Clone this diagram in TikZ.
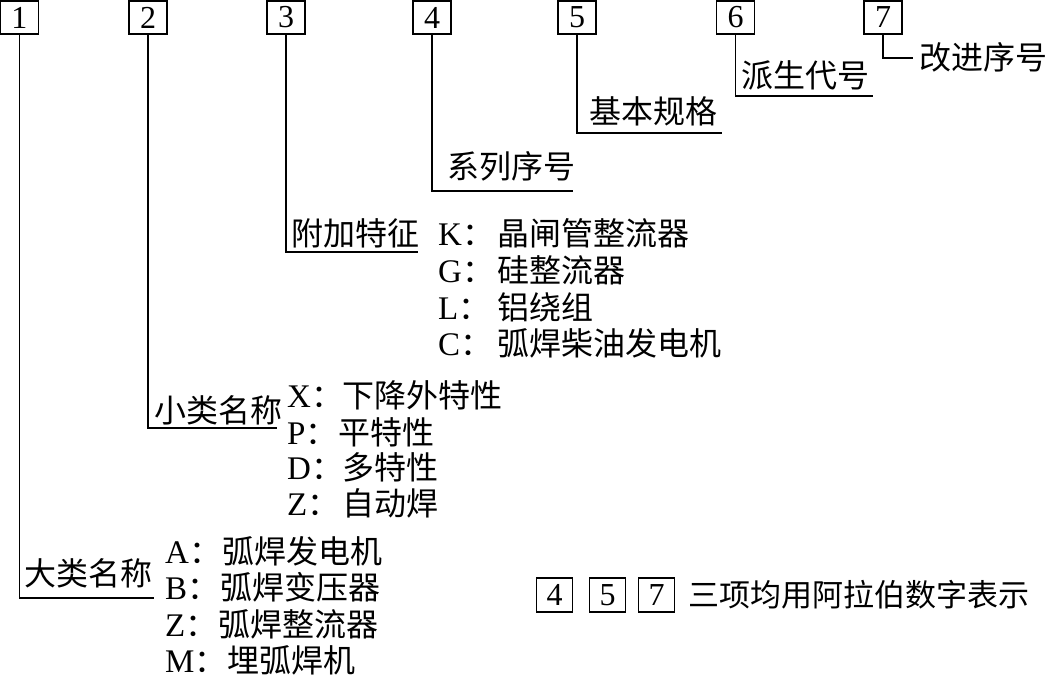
\documentclass[tikz,border=0pt]{standalone}
\usepackage{fontspec}
\setmainfont{Liberation Serif}
\newfontfamily\cjk{Noto Sans CJK SC}
\newcommand{\lt}[1]{{\fontsize{33}{36}\selectfont #1}}
\begin{document}
\begin{tikzpicture}[x=1pt,y=-1pt,
  numbox/.style={draw,line width=1.1pt,minimum width=38pt,minimum height=33pt,inner sep=0pt,font=\fontsize{32}{36}\selectfont},
  smallbox/.style={numbox,minimum width=36pt,minimum height=34pt},
  lbl/.style={anchor=base west,inner sep=0pt,font=\fontsize{32}{36}\selectfont\cjk},
  note/.style={anchor=base west,inner sep=0pt,font=\fontsize{31}{36}\selectfont\cjk},
  item/.style={anchor=base west,inner sep=0pt,font=\fontsize{32}{36}\selectfont},
  conn/.style={line width=1.1pt}]
\useasboundingbox (0,0) rectangle (1053,678);
% top boxes
\node[numbox] (b1) at (19.5,17.5) {1};
\node[numbox] (b2) at (148,17.5) {2};
\node[numbox] (b3) at (286,17.5) {3};
\node[numbox] (b4) at (432,17.5) {4};
\node[numbox] (b5) at (577,17.5) {5};
\node[numbox] (b6) at (735.5,17.5) {6};
\node[numbox] (b7) at (883,17.5) {7};
% line ends
\coordinate (e1) at (154,598);
\coordinate (e2) at (277,428);
\coordinate (e3) at (418,252);
\coordinate (e4) at (573,191);
\coordinate (e5) at (722,133);
\coordinate (e6) at (873,96);
\coordinate (e7) at (913,58);
\draw[conn] (b1.south) |- (e1);
\draw[conn] (b2.south) |- (e2);
\draw[conn] (b3.south) |- (e3);
\draw[conn] (b4.south) |- (e4);
\draw[conn] (b5.south) |- (e5);
\draw[conn] (b6.south) |- (e6);
\draw[conn] (b7.south) |- (e7);
% labels
\node[lbl] (l1) at (24,585) {大类名称};
\node[lbl] (l2) at (154,422) {小类名称};
\node[lbl] (l3) at (291,245) {附加特征};
\node[lbl] (l4) at (447,178) {系列序号};
\node[lbl] (l5) at (589,123) {基本规格};
\node[lbl] (l6) at (741,87) {派生代号};
\node[lbl] (l7) at (919,69) {改进序号};
% group 3
\node[item] (k) at (438,245) {\makebox[59pt][l]{\lt{K}{\cjk ：}}{\cjk 晶闸管整流器}};
\node[item] (g) at (438,282) {\makebox[59pt][l]{\lt{G}{\cjk ：}}{\cjk 硅整流器}};
\node[item] (l) at (438,319) {\makebox[59pt][l]{\lt{L}{\cjk ：}}{\cjk 铝绕组}};
\node[item] (c) at (438,355) {\makebox[59pt][l]{\lt{C}{\cjk ：}}{\cjk 弧焊柴油发电机}};
% group 2
\node[item] (x) at (287,407) {\makebox[55pt][l]{\lt{X}{\cjk ：}}{\cjk 下降外特性}};
\node[item] (p) at (287,444) {\makebox[51pt][l]{\lt{P}{\cjk ：}}{\cjk 平特性}};
\node[item] (d) at (287,479) {\makebox[55pt][l]{\lt{D}{\cjk ：}}{\cjk 多特性}};
\node[item] (z2) at (287,515) {\makebox[55pt][l]{\lt{Z}{\cjk ：}}{\cjk 自动焊}};
% group 1
\node[item] (a) at (165,563) {\makebox[57pt][l]{\lt{A}{\cjk ：}}{\cjk 弧焊发电机}};
\node[item] (bb) at (165,599) {\makebox[55pt][l]{\lt{B}{\cjk ：}}{\cjk 弧焊变压器}};
\node[item] (z1) at (165,636) {\makebox[53pt][l]{\lt{Z}{\cjk ：}}{\cjk 弧焊整流器}};
\node[item] (m) at (165,672) {\makebox[62pt][l]{\lt{M}{\cjk ：}}{\cjk 埋弧焊机}};
% bottom note
\node[smallbox] (n4) at (554.5,595) {4};
\node[smallbox] (n5) at (607.5,595) {5};
\node[smallbox] (n7) at (656.5,595) {7};
\node[note] (nt) at (688,606) {三项均用阿拉伯数字表示};
\end{tikzpicture}
\end{document}
